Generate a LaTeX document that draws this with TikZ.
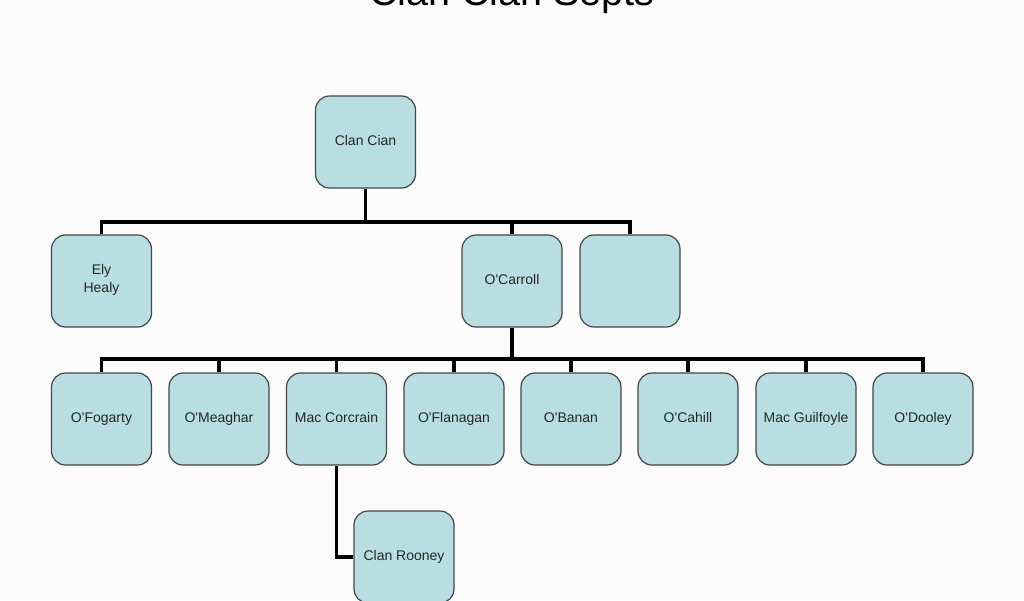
\documentclass[tikz,border=0pt]{standalone}
\usepackage{fontspec}
\setmainfont[Ligatures=TeXOff]{Liberation Sans}
\definecolor{boxfill}{HTML}{B8DEE1}
\definecolor{boxdraw}{HTML}{454545}
\definecolor{txt}{HTML}{262626}
\definecolor{bg}{HTML}{FBFBFB}
\tikzset{
  sept/.style={draw=boxdraw, line width=1.2pt, fill=boxfill, rounded corners=14pt,
    minimum width=100pt, minimum height=92pt, inner sep=2pt, align=center,
    text=txt, font=\fontsize{14}{17.5}\selectfont},
  conn/.style={draw=black, line width=3.2pt},
}
\begin{document}
\begin{tikzpicture}[x=1pt,y=-1pt]
\fill[bg] (0,0) rectangle (1024,600);
\useasboundingbox (0,0) rectangle (1024,600);
\node[anchor=base, font=\fontsize{39.5}{44}\selectfont, text=black] (title) at (512,5) {Clan Cian Septs};

\node[sept] (cian) at (365.5,142) {Clan Cian\strut};
\node[sept] (ely) at (101.5,281) {Ely\\Healy\strut};
\node[sept] (carroll) at (512,281) {O'Carroll\strut};
\node[sept] (blank) at (630,281) {};

\node[sept] (fogarty) at (101.5,419) {O'Fogarty\strut};
\node[sept] (meaghar) at (219,419) {O'Meaghar\strut};
\node[sept] (corcrain) at (336.5,419) {Mac Corcrain\strut};
\node[sept] (flanagan) at (454,419) {O'Flanagan\strut};
\node[sept] (banan) at (571,419) {O'Banan\strut};
\node[sept] (cahill) at (688,419) {O'Cahill\strut};
\node[sept] (guilfoyle) at (806,419) {Mac Guilfoyle\strut};
\node[sept] (dooley) at (923,419) {O'Dooley\strut};

\node[sept] (rooney) at (404,557) {Clan Rooney\strut};

\coordinate (bus1) at (366,222);
\coordinate (bus2) at (512,359);

\draw[conn] (cian.south) -- (cian.south |- bus1);
\draw[conn] (ely.north) |- (bus1) -| (blank.north);
\draw[conn] (carroll.north) -- (carroll.north |- bus1);

\draw[conn] (carroll.south) -- (carroll.south |- bus2);
\draw[conn] (fogarty.north) |- (bus2) -| (dooley.north);
\foreach \n in {meaghar,corcrain,flanagan,banan,cahill,guilfoyle}
  \draw[conn] (\n.north) -- (\n.north |- bus2);

\draw[conn] (corcrain.south) |- (rooney.west);
\end{tikzpicture}
\end{document}
